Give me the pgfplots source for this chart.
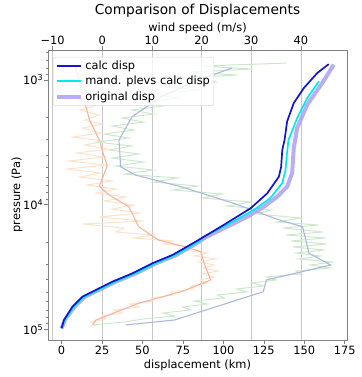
\documentclass[border=0pt]{standalone}
\usepackage{pgfplots}
\pgfplotsset{compat=1.18}
\usepackage{fontspec}
\setmainfont{DejaVu Sans}

\definecolor{calcblue}{RGB}{20,20,215}
\definecolor{mandcyan}{RGB}{0,235,235}
\definecolor{origlav}{RGB}{170,160,245}
\definecolor{orraw}{RGB}{254,226,202}
\definecolor{redsm}{RGB}{245,180,160}
\definecolor{grraw}{RGB}{205,232,205}
\definecolor{blsm}{RGB}{172,184,220}
\definecolor{framegray}{RGB}{130,130,130}

\begin{document}
\begin{tikzpicture}
\pgfplotsset{
  every axis/.append style={
    scale only axis, width=299pt, height=290pt,
    ymode=log, y dir=reverse, ymin=574, ymax=121700,
    font=\fontsize{11.4pt}{13.7pt}\selectfont,
    /pgf/number format/assume math mode=true,
    tick align=outside,
    major tick length=4pt, minor tick length=2.2pt,
    axis line style={framegray, line width=0.7pt},
    every tick/.style={framegray, line width=0.6pt},
    xticklabel style={inner sep=1.5pt},
    yticklabel style={inner sep=0.5pt},
  }
}
% ---- wind speed axis (top) ----
\begin{axis}[
  axis x line*=top, axis y line=none,
  xmin=-10.93, xmax=49.3,
  xtick={-10,0,10,20,30,40},
  xticklabels={−10,0,10,20,30,40},
  xmajorgrids, major grid style={black!22, line width=0.6pt},
  xlabel={wind speed (m/s)},
  xlabel style={at={(0.5,1)}, anchor=base, yshift=18.5pt},
  title={Comparison of Displacements},
  title style={at={(0.5,1)}, anchor=base, yshift=29pt, font=\fontsize{13.7pt}{16pt}\selectfont},
]
% orange raw
\addplot[orraw, line width=1pt] coordinates {
(-5.94,758)(-3.56,801)(-6.73,863)(-3.17,929)(-6.34,1000)(-2.57,1097)(-5.54,1203)(-1.98,1319)(-4.75,1447)(-1.19,1587)(-4.36,1740)(-0.59,1909)(-3.56,2094)(0,2254)(-3.96,2427)(-0.40,2661)(-5.94,2865)(0.40,3085)(-3.56,3321)(1.19,3575)(-5.15,3849)(0.40,4144)(-6.73,4462)(0.79,4804)(-7.13,5172)(-0.40,5569)(-4.55,5995)(1.98,6455)(-3.17,6950)(2.77,7482)(-1.19,8056)(4.75,8675)(0.40,9340)(6.34,10055)(1.98,10826)(7.52,11657)(-0.59,12547)(8.32,13513)(-3.96,14282)(4.36,15378)(2.77,16556)(10.30,17498)(6.34,18493)(14.26,19546)(12.28,20661)(18.61,21836)(16.24,23081)(21.19,24395)(18.61,25783)(22.97,27252)(19.41,28804)(22.57,30446)(20.20,32180)(23.37,34014)(20.20,35950)(22.57,37999)(19.80,40162)(21.19,42452)(17.82,44875)(18.22,47425)(13.86,50127)(14.26,52978)(9.90,56002)(10.30,59198)(5.54,62560)(7.33,66130)(2.38,69890)(3.96,73880)(0,78070)(0.79,82530)(-2.38,87220)(-1.19,92190)(-2.77,95650)
};
% red smoothed
\addplot[redsm, line width=1.1pt] coordinates {
(-5.54,758)(-4.55,1057)(-2.57,2094)(-0.59,3028)(-0.20,3446)(0.99,4894)(-0.59,7079)(1.39,8360)(5.35,10375)(7.33,15010)(11.29,19180)(16.57,21720)(19.86,23820)(20.53,29510)(21.84,40160)(15.90,49860)(7.33,61770)(-1.25,84040)(-1.98,92190)
};
% green raw
\addplot[grraw, line width=1pt] coordinates {
(37.03,731)(20.20,772)(30.10,816)(18.22,863)(27.13,912)(15.25,964)(23.17,1038)(12.28,1117)(19.21,1203)(10.30,1295)(15.25,1394)(8.32,1501)(12.28,1616)(5.94,1740)(10.30,1874)(3.96,2017)(8.32,2172)(1.98,2338)(6.34,2518)(0.40,2710)(5.35,2918)(-1.19,3142)(5.94,3383)(1.39,3642)(7.33,3922)(1.98,4222)(8.32,4546)(2.77,4894)(10.30,5269)(4.36,5673)(15.25,6108)(10.30,6577)(19.21,7079)(14.26,7622)(24.16,8207)(20.20,8836)(30.10,9513)(25.15,10242)(34.06,11027)(31.09,11873)(40.0,12782)(35.05,13763)(43.56,14549)(36.44,15378)(44.36,16556)(37.03,17498)(44.95,18493)(38.02,19546)(45.15,20661)(38.42,21836)(44.75,23081)(39.01,24395)(43.96,25783)(39.60,27252)(46.34,28804)(41.98,30446)(45.94,32180)(39.01,34014)(40.0,35950)(33.07,37999)(35.05,40162)(30.10,42452)(32.48,44875)(27.13,47425)(29.11,50127)(23.17,52978)(24.55,56002)(18.61,59198)(21.19,62560)(16.24,66130)(17.82,69890)(12.28,73880)(14.65,78070)(8.32,82530)(4.36,87220)(-1.98,92190)
};
% blue smoothed
\addplot[blsm, line width=1.1pt] coordinates {
(26.14,801)(18.22,1038)(11.88,1361)(6.0,1969)(3.37,3028)(3.70,4958)(6.67,5779)(15.90,7173)(26.48,9746)(35.70,13267)(40.34,15010)(41.0,19180)(41.64,24530)(46.0,30446)(33.07,40162)(32.42,49860)(14.59,84040)(4.69,92190)
};
\end{axis}
% ---- displacement axis (bottom) ----
\begin{axis}[
  xmin=-8.4, xmax=176.4,
  xtick={0,25,50,75,100,125,150,175},
  xtick pos=left, ytick pos=left,
  ytick={1000,10000,100000},
  yticklabels={10\textsuperscript{3},10\textsuperscript{4},10\textsuperscript{5}},
  minor ytick={600,700,800,900,2000,3000,4000,5000,6000,7000,8000,9000,20000,30000,40000,50000,60000,70000,80000,90000},
  xlabel={displacement (km)},
  ylabel={pressure (Pa)},
  ylabel style={at={(axis description cs:-0.1037,0.5)}, anchor=center, rotate=0},
  legend cell align=left,
  legend style={at={(0.017,0.976)}, anchor=north west, draw=black!15, rounded corners=2pt,
    fill=white, fill opacity=0.8, text opacity=1, draw opacity=1, inner sep=2pt, row sep=1pt,
    font=\fontsize{11.4pt}{13.7pt}\selectfont},
  legend image code/.code={\draw[#1] (0pt,0pt) -- (24pt,0pt);},
]
\addlegendimage{draw={rgb,255:red,20;green,20;blue,215}, line width=1.7pt}
\addlegendentry{calc disp}
\addlegendimage{draw={rgb,255:red,0;green,235;blue,235}, line width=1.9pt}
\addlegendentry{mand. plevs calc disp}
\addlegendimage{draw={rgb,255:red,170;green,160;blue,245}, line width=4pt, draw opacity=0.85}
\addlegendentry{original disp}
\addplot[origlav, line width=4pt, opacity=0.85, forget plot] coordinates {
(0,98030)(2,84050)(8,65730)(14.5,54670)(23,48330)(33.5,41430)(46,35510)(58.5,29490)(71,25310)(85,19810)(88,18590)(100.3,15450)(114.8,12480)(125,10370)(133.3,8625)(139.4,7172)(142.5,5571)(143.5,3510)(145.6,2426)(151.8,1578)(161.9,1019)(168.2,753)
};
\addplot[mandcyan, line width=1.7pt, forget plot] coordinates {
(0,98030)(2,84050)(7.5,65730)(14,54670)(22.5,48330)(33,41430)(45.5,35510)(58,29490)(70.5,25310)(84.5,19810)(87.8,18070)(104.4,14020)(118.8,11020)(129.1,8835)(136.4,6700)(138.4,5275)(139.2,4000)(140.2,3027)(145.6,2018)(151.8,1394)(159,1024)
};
\addplot[calcblue, line width=1.7pt, forget plot] coordinates {
(0,98030)(1.5,84050)(6.7,65730)(12.9,54670)(21.1,48330)(31.4,41430)(43.8,35510)(56.1,29490)(68.5,25310)(82.8,19810)(100.1,14550)(116.8,10690)(127.1,8103)(134.3,5960)(135.7,4958)(136.4,3641)(137.8,3027)(139.4,2143)(143.5,1529)(149.7,1159)(158,879)(165.1,745)
};
\end{axis}
\pgfresetboundingbox
\path[use as bounding box] (-48pt,-37pt) rectangle (313pt,340pt);
\end{tikzpicture}
\end{document}
